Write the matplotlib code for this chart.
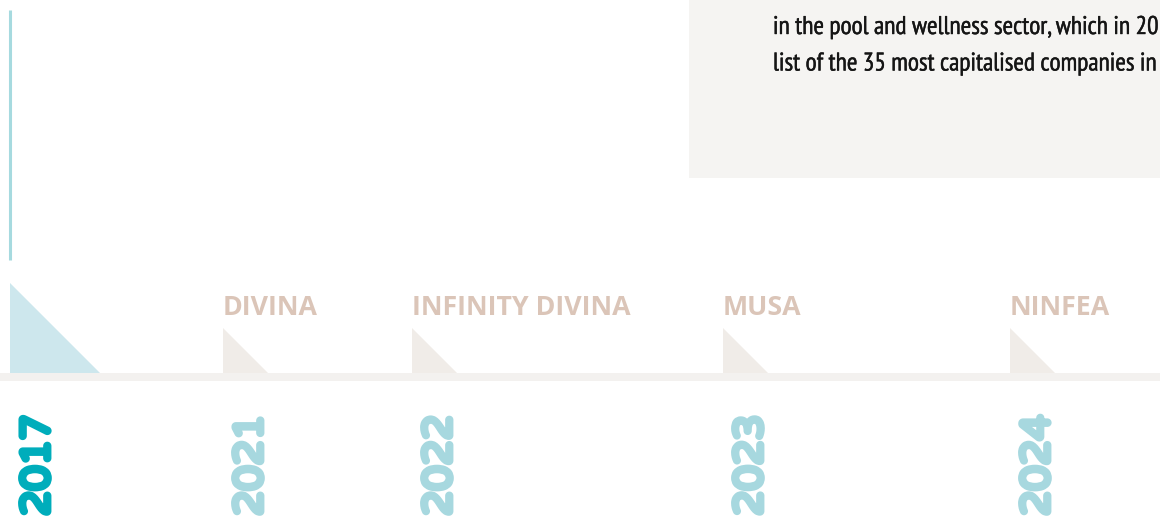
import matplotlib.pyplot as plt
from matplotlib.patches import Polygon, Rectangle
import matplotlib.patheffects as pe

# dati della timeline
years = ['2017', '2021', '2022', '2023', '2024']
products = ['', 'DIVINA', 'INFINITY DIVINA', 'MUSA', 'NINFEA']
highlight = '2017'
box_lines = ['in the pool and wellness sector, which in 20',
             'list of the 35 most capitalised companies in']

# layout (pixel della pagina)
W, H = 1160, 528
x_pos = [10, 223, 412, 723, 1010]

fig = plt.figure(figsize=(W / 100, H / 100), dpi=100)
ax = fig.add_axes([0, 0, 1, 1])
ax.set_xlim(0, W)
ax.set_ylim(H, 0)
ax.axis('off')

# riquadro grigio in alto a destra
ax.add_patch(Rectangle((689, -5), W - 689 + 5, 183, color='#f5f4f2', lw=0))
for i, line in enumerate(box_lines):
    ax.text(773, 34 + i * 36.5, line, fontsize=18.4, color='#151515',
            family=['PT Sans Narrow', 'DejaVu Sans'], va='baseline', ha='left',
            path_effects=[pe.withStroke(linewidth=0.3, foreground='#151515')])

# linea verticale a sinistra
ax.plot([9.5, 9.5], [10, 260], color='#a6dadf', lw=2.2, solid_capstyle='butt')

# barra orizzontale
ax.add_patch(Rectangle((0, 373), W, 7.5, color='#f3f1ef', lw=0))

for x, yr, prod in zip(x_pos, years, products):
    if yr == highlight:
        tri = [(x, 283), (x, 373), (x + 90, 373)]
        ax.add_patch(Polygon(tri, closed=True, color='#cde7ed', lw=0))
        col = '#00adbb'
    else:
        tri = [(x, 328), (x, 373), (x + 45, 373)]
        ax.add_patch(Polygon(tri, closed=True, color='#f0ece8', lw=0))
        col = '#a7d8df'
    if prod:
        ax.text(x, 315, prod, fontsize=19.3, fontweight='bold', color='#dbc5b8',
                family='Open Sans', va='baseline', ha='left')
    ax.text(x + 9, 415, yr, rotation=90, fontsize=29, color=col,
            family=['Varela Round', 'DejaVu Sans'], ha='left', va='top',
            path_effects=[pe.withStroke(linewidth=3.5, foreground=col, capstyle='round', joinstyle='round')])

fig.savefig('out.png', dpi=100)
